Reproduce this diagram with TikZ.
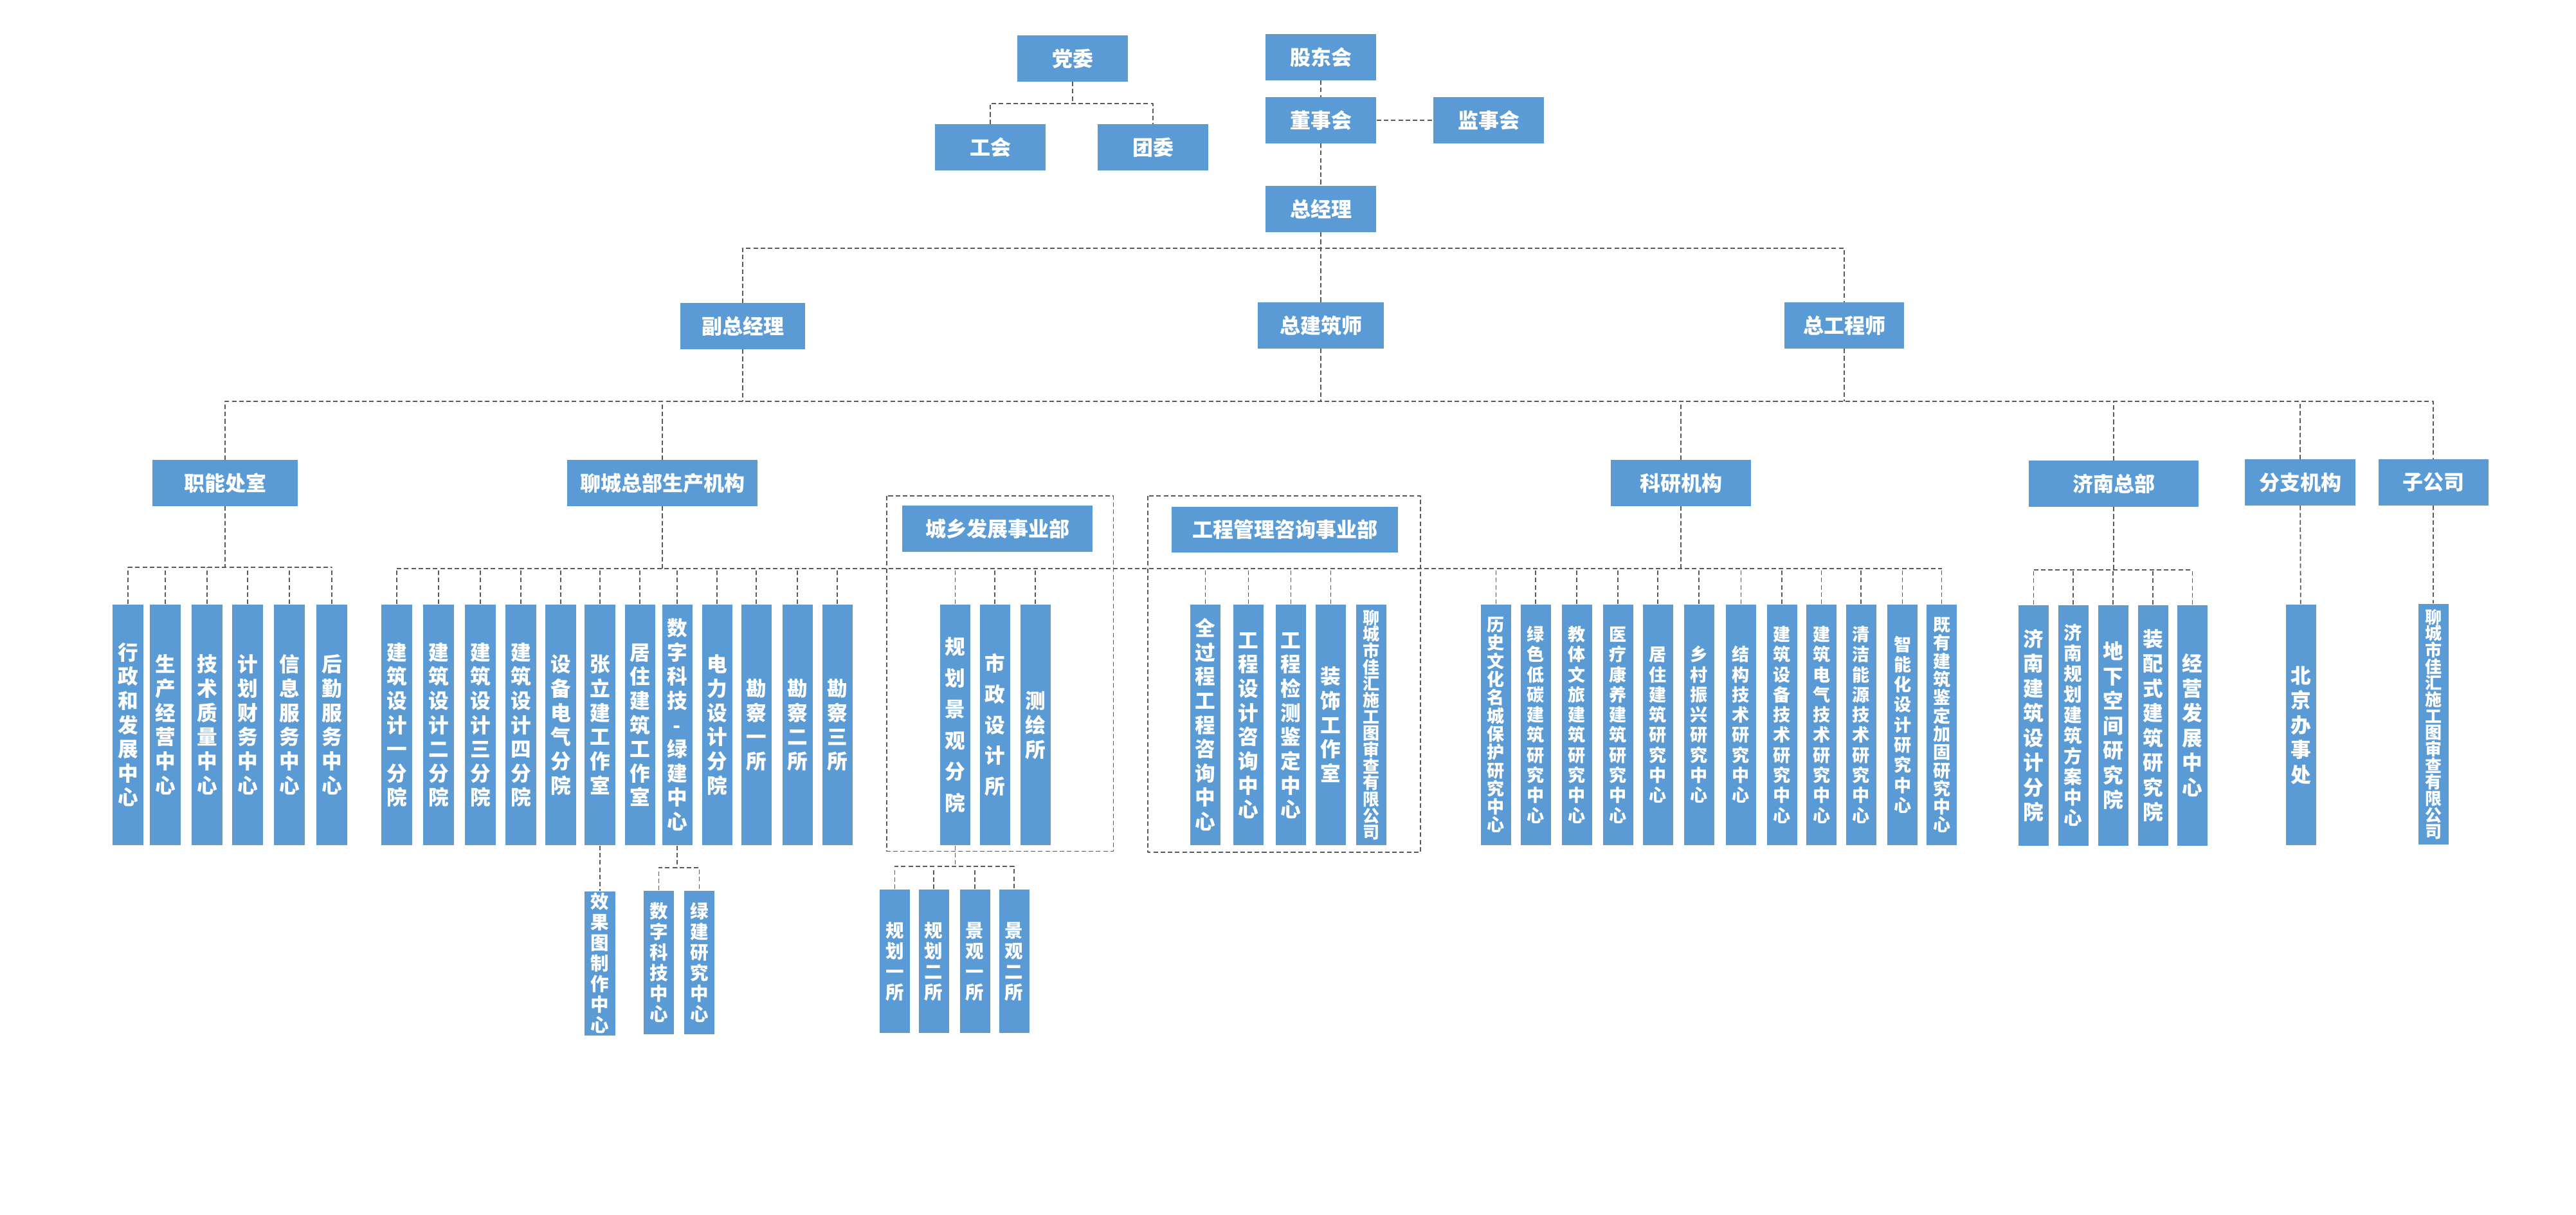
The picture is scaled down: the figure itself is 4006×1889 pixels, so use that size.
\documentclass[tikz,border=0pt]{standalone}
\usepackage{fontspec}
\setmainfont{Noto Sans CJK SC}
\definecolor{boxblue}{HTML}{5B9BD5}
% one character per line
\newcommand\vtxt[1]{\vbox{\lineskiplimit=-\maxdimen\expandafter\vtxtloop#1\relax}}
\def\vtxtloop#1{\ifx#1\relax\else\hbox to 12pt{\hss\vrule height.88em depth.12em width0pt\smash{#1}\hss}\expandafter\vtxtloop\fi}
\begin{document}
\begin{tikzpicture}[x=0.01cm,y=-0.01cm,line join=round,
link/.style={draw=black!65,line width=0.5pt,dash pattern=on 2pt off 1.2pt},
box/.style={fill=boxblue,text=white,inner sep=0,minimum width=#1,minimum height=0.71cm,font=\bfseries\fontsize{9.1}{11}\selectfont},
vbox/.style={fill=boxblue,text=white,inner sep=0,minimum width=0.47cm,minimum height=3.74cm,font=\bfseries\fontsize{9}{10.7}\selectfont},
kbox/.style={vbox,font=\bfseries\fontsize{7.7}{8.9}\selectfont},
ktight/.style={vbox,font=\bfseries\fontsize{7.7}{8.05}\selectfont},
cbox/.style={vbox,font=\bfseries\fontsize{7.4}{7.3}\selectfont},
jbox/.style={vbox,font=\bfseries\fontsize{9}{10.95}\selectfont},
sbox/.style={vbox,minimum height=2.23cm,font=\bfseries\fontsize{8.1}{9.1}\selectfont}]
\useasboundingbox (0,0) rectangle (4006,1889);
\path 
(0,161) coordinate (bp)
(0,386) coordinate (b1)
(0,624) coordinate (b2)
(0,882) coordinate (b3)
(0,884) coordinate (b4)
(0,886) coordinate (b5)
(0,1349) coordinate (b6)
(0,1347) coordinate (b7)
;
% top
\node[box=1.72cm] (dangwei) at (1668,91) {党委};
\node[box=1.72cm] (gonghui) at (1540,229) {工会};
\node[box=1.72cm] (tuanwei) at (1793,229) {团委};
\node[box=1.72cm] (gudong) at (2054,89) {股东会};
\node[box=1.72cm] (dongshi) at (2054,187) {董事会};
\node[box=1.72cm] (jianshi) at (2315,187) {监事会};
\node[box=1.72cm] (zjl) at (2054,325) {总经理};
\node[box=1.94cm] (fzjl) at (1155,507) {副总经理};
\node[box=1.96cm] (zjzs) at (2054,506) {总建筑师};
\node[box=1.86cm] (zgcs) at (2868,506) {总工程师};
% departments
\node[box=2.26cm] (znc) at (350,751) {职能处室};
\node[box=2.96cm] (lc) at (1030,751) {聊城总部生产机构};
\node[box=2.18cm] (ky) at (2614,751) {科研机构};
\node[box=2.63cm] (jn) at (3287,752) {济南总部};
\node[box=1.71cm] (fz) at (3577,750) {分支机构};
\node[box=1.71cm] (zgs) at (3784,750) {子公司};
\draw[link] (1379,771) rectangle (1731.5,1323.5);
\draw[link] (1785,771) rectangle (2209,1325);
\node[box=2.96cm] (cx) at (1551,822) {城乡发展事业部};
\node[box=3.52cm] (gc) at (1998,823.5) {工程管理咨询事业部};
% units
\foreach\x/\txt [count=\i] in {199/行政和发展中心, 257/生产经营中心, 322/技术质量中心, 385/计划财务中心, 450/信息服务中心, 516/后勤服务中心}
\node[vbox] (z\i) at (\x,1127) {\vtxt\txt};
\foreach\x/\txt [count=\i] in {617/建筑设计一分院, 682/建筑设计二分院, 747/建筑设计三分院, 810/建筑设计四分院, 872/设备电气分院, 933/张立建工作室, 995/居住建筑工作室, 1053/数字科技-绿建中心, 1115/电力设计分院, 1176/勘察一所, 1240/勘察二所, 1302/勘察三所}
\node[vbox] (l\i) at (\x,1127) {\vtxt\txt};
\node[vbox,font=\bfseries\fontsize{9}{13.8}\selectfont] (c1) at (1485.5,1127) {\vtxt{规划景观分院}};
\node[vbox,font=\bfseries\fontsize{9}{13.6}\selectfont] (c2) at (1547,1127) {\vtxt{市政设计所}};
\node[vbox,font=\bfseries\fontsize{9}{10.8}\selectfont] (c3) at (1610,1127) {\vtxt{测绘所}};
\foreach\x/\s/\txt [count=\i] in {1874.5/vbox/全过程工程咨询中心, 1941.5/vbox/工程设计咨询中心, 2007.5/vbox/工程检测鉴定中心, 2069.5/vbox/装饰工作室, 2132.5/cbox/聊城市佳汇施工图审查有限公司}
\node[\s] (e\i) at (\x,1127) {\vtxt\txt};
\foreach\x/\s/\txt [count=\i] in {2326.5/ktight/历史文化名城保护研究中心, 2388/kbox/绿色低碳建筑研究中心, 2452/kbox/教体文旅建筑研究中心, 2516/kbox/医疗康养建筑研究中心, 2578/kbox/居住建筑研究中心, 2642/kbox/乡村振兴研究中心, 2707.5/kbox/结构技术研究中心, 2771/kbox/建筑设备技术研究中心, 2832.5/kbox/建筑电气技术研究中心, 2894/kbox/清洁能源技术研究中心, 2958.5/kbox/智能化设计研究中心, 3019.5/ktight/既有建筑鉴定加固研究中心}
\node[\s] (k\i) at (\x,1127) {\vtxt\txt};
\foreach\x/\s/\txt [count=\i] in {3162.5/jbox/济南建筑设计分院, 3224/sbox/济南规划建筑方案中心, 3286/jbox/地下空间研究院, 3348/jbox/装配式建筑研究院, 3409.5/jbox/经营发展中心}
\node[\s,minimum height=3.74cm] (j\i) at (\x,1128) {\vtxt\txt};
\node[jbox] (bj) at (3578.5,1127) {\vtxt{北京办事处}};
\node[cbox] (jh) at (3784,1126) {\vtxt{聊城市佳汇施工图审查有限公司}};
% sub units
\node[sbox,minimum height=2.24cm] (xgt) at (933,1498) {\vtxt{效果图制作中心}};
\node[sbox] (szkj) at (1024.5,1496.5) {\vtxt{数字科技中心}};
\node[sbox] (ljyj) at (1087.5,1496.5) {\vtxt{绿建研究中心}};
\foreach\x/\txt [count=\i] in {1391.5/规划一所, 1452/规划二所, 1516/景观一所, 1577/景观二所}
\node[sbox] (g\i) at (\x,1494.5) {\vtxt\txt};
% links
\draw[link] (dangwei) -- (dangwei |- bp);
\draw[link] (gonghui) |- (tuanwei |- bp) -- (tuanwei);
\draw[link] (gudong) -- (dongshi);
\draw[link] (dongshi) -- (jianshi);
\draw[link] (dongshi) -- (zjl);
\draw[link] (zjl) -- (zjzs);
\draw[link] (fzjl) |- (zgcs |- b1) -- (zgcs);
\draw[link] (znc) |- (zgs |- b2) -- (zgs);
\foreach\p in {fzjl,zjzs,zgcs,lc,ky,jn,fz}
\draw[link] (\p) -- (\p |- b2);
\draw[link] (znc) -- (znc |- b3);
\draw[link] (z1 |- b3) -- (z6 |- b3);
\foreach\i in {1,...,6}
\draw[link] (z\i) -- (z\i |- b3);
\draw[link] (lc) -- (lc |- b4);
\draw[link] (ky) -- (ky |- b4);
\draw[link] (l1 |- b4) -- (k12 |- b4);
\foreach\p in {l1,l2,l3,l4,l5,l6,l7,l8,l9,l10,l11,l12,c1,c2,c3,e1,e2,e3,e4,k1,k2,k3,k4,k5,k6,k7,k8,k9,k10,k11,k12}
\draw[link] (\p) -- (\p |- b4);
\draw[link] (jn) -- (jn |- b5);
\draw[link] (j1 |- b5) -- (j5 |- b5);
\foreach\i in {1,...,5}
\draw[link] (j\i) -- (j\i |- b5);
\draw[link] (fz) -- (bj);
\draw[link] (zgs) -- (jh);
\draw[link] (l6) -- (xgt);
\draw[link] (l8) -- (l8 |- b6);
\draw[link] (szkj) |- (ljyj |- b6) -- (ljyj);
\draw[link] (c1) -- (c1 |- b7);
\draw[link] (g1) |- (g4 |- b7) -- (g4);
\foreach\i in {2,3}
\draw[link] (g\i) -- (g\i |- b7);
\end{tikzpicture}
\end{document}
